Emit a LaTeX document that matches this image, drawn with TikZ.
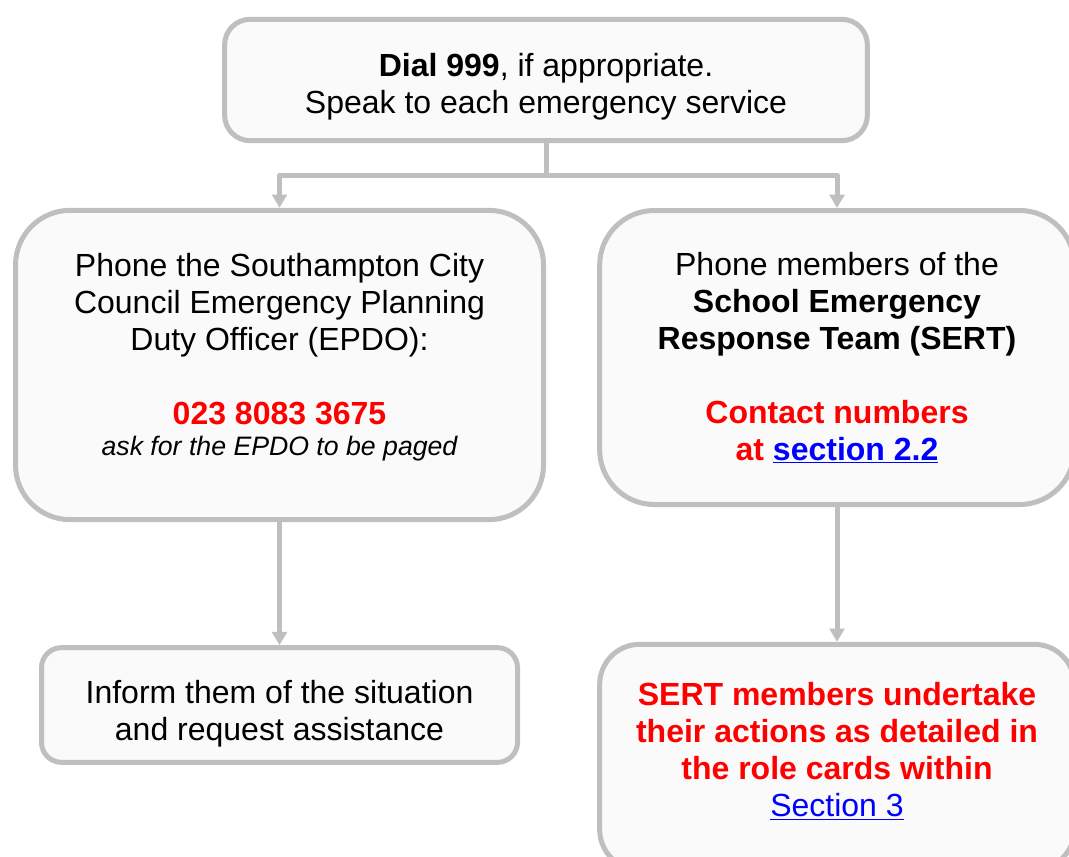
\documentclass[tikz,border=0pt]{standalone}
\usepackage{fontspec}
\setmainfont{Liberation Sans}
\usetikzlibrary{arrows.meta}
\definecolor{edge}{HTML}{BFBFBF}
\definecolor{pale}{HTML}{FAFAFA}
\definecolor{alert}{HTML}{FF0000}
\definecolor{link}{HTML}{0000FF}
\newcommand{\lnk}[1]{\textcolor{link}{\underline{#1}}}
\newcommand{\lift}[1]{\rule{0pt}{#1}}
\newcommand{\sink}[1]{\rule[-#1]{0pt}{0pt}}
\tikzset{
  box/.style={draw=edge,fill=pale,line width=3.75pt,rounded corners=#1,align=center,
    font=\fontsize{24}{27.75}\selectfont},
  box/.default=19pt,
  flow/.style={draw=edge,line width=3.75pt,-{Triangle[width=11pt,length=10pt]}}
}
\begin{document}
\begin{tikzpicture}[x=0.75pt,y=-0.75pt,line join=round]
        \useasboundingbox (0,0) rectangle (1069,856);
        \clip (0,0) rectangle (1069,856);

        \node[box,minimum width=482pt,minimum height=91pt] (dial) at (546,80)
          {\lift{28pt}\textbf{Dial 999}, if appropriate.\\Speak to each emergency service};
        \node[box=41pt,minimum width=396pt,minimum height=232pt] (epdo) at (279.5,365)
          {Phone the Southampton City\\Council Emergency Planning\\Duty Officer (EPDO):\\[27.75pt]
           \textcolor{alert}{\textbf{023 8083 3675}}\\[-4.5pt]
           {\fontsize{20}{23}\selectfont\itshape ask for the EPDO to be paged}\sink{16pt}};
        \node[box=41pt,minimum width=356pt,minimum height=220.5pt] (sert) at (837,357.5)
          {Phone members of the\\\textbf{School Emergency}\\\textbf{Response Team (SERT)}\\[27.75pt]
           \textcolor{alert}{\textbf{Contact numbers}}\\\textcolor{alert}{\textbf{at} }\textbf{\lnk{section 2.2}}};
        \node[box=15pt,minimum width=357pt,minimum height=86pt] (inform) at (279.5,705)
          {\lift{30.5pt}Inform them of the situation\\and request assistance};
        \node[box=30pt,minimum width=356pt,minimum height=169pt] (act) at (837,757)
          {\textcolor{alert}{\textbf{SERT members undertake}}\\\textcolor{alert}{\textbf{their actions as detailed in}}\\
           \textcolor{alert}{\textbf{the role cards within}}\\\lnk{Section 3}\sink{11pt}};

        % connectors
        \coordinate (fork) at (546,175);
        \draw[draw=edge,line width=3.75pt] (dial.south) -- (fork);
        \draw[flow] (fork) -| (epdo.north);
        \draw[flow] (fork) -| (sert.north);
        \draw[flow] (epdo.south) -- (inform.north);
        \draw[flow] (sert.south) -- (act.north);
\end{tikzpicture}
\end{document}
